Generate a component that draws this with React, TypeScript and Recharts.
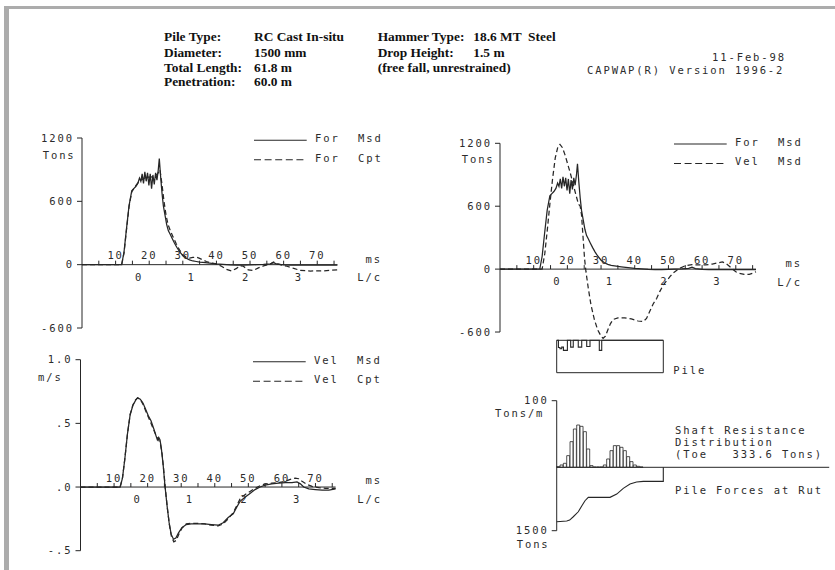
import React from 'react';
import {
  LineChart, Line, XAxis, YAxis, ReferenceLine, ReferenceDot, ReferenceArea, ComposedChart, Bar,
} from 'recharts';

type Pt = [number, number];

const INK = '#262626';
const TXT = '#2c2c2c';
const MONO = '"DejaVu Sans Mono", "Liberation Mono", monospace';
const SERIF = '"Liberation Serif", "Times New Roman", serif';
const FS = 10.5;
const LS = 1.9;

// time axis (ms) shared by the three signal plots
const msTicks = [5, 10, 15, 20, 25, 30, 35, 40, 45, 50, 55, 60, 65, 70, 75];
const msLabels = [10, 20, 30, 40, 50, 60, 70];
const lcLabels = ['0', '1', '2', '3'];
const lcLabelMs = [17.0, 32.6, 48.8, 64.5];

const forceTicks = [-600, 0, 600, 1200];
const velTicks = [-0.5, 0, 0.5, 1.0];
const velTickText: Record<string, string> = { '-0.5': '-.5', '0': '.0', '0.5': '.5', '1': '1.0' };

const pileInfo = [
  ['Pile Type:', 'RC Cast In-situ'],
  ['Diameter:', '1500 mm'],
  ['Total Length:', '61.8 m'],
  ['Penetration:', '60.0 m'],
];
const hammerInfo = [
  ['Hammer Type:', '18.6 MT  Steel'],
  ['Drop Height:', '1.5 m'],
  ['(free fall, unrestrained)', ''],
];

// measured force, tons
const forceMsd: Pt[] = [
  [0, 0], [11.8, 0], [12.5, 120], [13.2, 330], [14, 560], [14.8, 700], [15.4, 720], [16, 740],
  [16.6, 770], [17.1, 820], [17.5, 790], [17.9, 860], [18.3, 770], [18.7, 880], [19.1, 790],
  [19.5, 870], [19.9, 750], [20.3, 860], [20.7, 720], [21.1, 850], [21.5, 760], [21.9, 870],
  [22.3, 800], [22.7, 900], [23.0, 1005], [23.4, 830], [23.8, 680], [24.2, 560], [24.7, 470],
  [25.2, 380], [25.7, 320], [26.2, 290], [26.8, 250], [27.5, 205], [28.2, 165], [29, 125],
  [30, 85], [31, 60], [32, 45], [33, 35], [34, 30], [35, 25], [36, 22], [38, 15], [40, 8],
  [42, 3], [44, -3], [46, -5], [48, -4], [50, -2], [52, 0], [54, 2], [56, 8], [57, 18],
  [58, 5], [60, -3], [62, -5], [66, -5], [70, -5], [76, -5],
];

// computed force, tons
const forceCpt: Pt[] = [
  [0, 0], [11.8, 0], [12.5, 110], [13.2, 320], [14, 550], [14.8, 690], [15.6, 730], [16.5, 770],
  [17.5, 800], [18.5, 820], [19.5, 830], [20.5, 830], [21.5, 835], [22.5, 860], [23.2, 900],
  [23.8, 760], [24.4, 600], [25, 470], [25.6, 380], [26.3, 320], [27, 270], [28, 200], [29, 140],
  [30, 95], [31, 70], [32, 62], [33, 68], [34, 72], [35, 60], [36, 45], [37, 30], [38, 20],
  [40, 8], [41.5, -15], [43, -45], [44.5, -60], [46, -35], [47, -10], [48, -15], [49.5, -50],
  [51, -55], [52.5, -30], [54, -12], [56, 5], [57, 25], [58, 10], [59.5, -5], [61, -15],
  [63, -35], [65, -55], [68, -60], [72, -58], [76, -48],
];

// measured velocity times impedance, tons
const velMsdTons: Pt[] = [
  [0, 0], [12.5, 0], [13.3, 150], [14, 360], [14.8, 620], [15.6, 860], [16.4, 1060], [17.2, 1170],
  [17.8, 1190], [18.5, 1160], [19.3, 1090], [20.2, 990], [21, 900], [21.8, 800], [22.6, 700],
  [23.3, 620], [23.8, 600], [24.2, 520], [24.6, 330], [25.1, 100], [25.5, -20], [26.2, -180],
  [27, -340], [28, -480], [29, -580], [30, -640], [30.6, -660], [31.3, -640], [32, -580],
  [32.8, -520], [33.6, -480], [35, -465], [37, -465], [39, -475], [41, -495], [42.5, -500],
  [43.5, -470], [44.5, -400], [45.5, -330], [46.5, -280], [47.5, -210], [48.5, -150],
  [49.5, -110], [50.5, -70], [51.5, -35], [52.5, -10], [53.5, 10], [54.5, 25], [55.5, 35],
  [57, 42], [59, 40], [61, 40], [63, 48], [64.5, 58], [66, 68], [67, 55], [68, 30], [69, 0],
  [70, -25], [71, -40], [72.5, -50], [74, -50], [75, -40], [76, -25],
];

// measured velocity, m/s
const velMsd: Pt[] = [
  [0, 0], [11.8, 0], [12.5, 0.07], [13.2, 0.22], [14, 0.42], [14.8, 0.57], [15.6, 0.64],
  [16.4, 0.68], [17, 0.70], [17.8, 0.69], [18.6, 0.66], [19.4, 0.61], [20.2, 0.56], [21, 0.52],
  [21.8, 0.46], [22.4, 0.41], [22.9, 0.37], [23.3, 0.39], [23.7, 0.37], [24.1, 0.30],
  [24.6, 0.18], [25.2, 0.0], [25.8, -0.15], [26.4, -0.28], [27, -0.37], [27.7, -0.41],
  [28.4, -0.40], [29.2, -0.36], [30.2, -0.32], [31.5, -0.295], [33, -0.29], [35, -0.29],
  [37, -0.29], [39, -0.295], [41, -0.30], [42.5, -0.28], [44, -0.24], [45.5, -0.21],
  [46.5, -0.16], [47.6, -0.11], [49, -0.08], [50.5, -0.05], [52, -0.02], [53.5, 0.0],
  [55, 0.015], [57, 0.025], [59, 0.03], [61, 0.035], [63, 0.035], [64.5, 0.04], [65.5, 0.025],
  [66.5, 0.0], [68, -0.015], [70, -0.02], [72, -0.025], [74, -0.025], [76, -0.015],
];

// computed velocity, m/s
const velCpt: Pt[] = [
  [0, 0], [11.8, 0], [12.5, 0.07], [13.2, 0.22], [14, 0.42], [14.8, 0.57], [15.6, 0.645],
  [16.4, 0.685], [17, 0.70], [17.8, 0.69], [18.6, 0.65], [19.4, 0.60], [20.2, 0.55], [21, 0.50],
  [21.8, 0.45], [22.6, 0.40], [23.3, 0.37], [23.8, 0.34], [24.3, 0.26], [24.8, 0.13],
  [25.3, -0.02], [25.9, -0.17], [26.5, -0.30], [27.1, -0.39], [27.8, -0.43], [28.5, -0.42],
  [29.3, -0.37], [30.3, -0.32], [31.5, -0.29], [33, -0.285], [35, -0.285], [37, -0.29],
  [39, -0.3], [41, -0.305], [42.5, -0.29], [44, -0.25], [45.5, -0.2], [46.5, -0.15],
  [47.6, -0.09], [49, -0.06], [50.5, -0.035], [52, -0.01], [53.5, 0.01], [55, 0.025],
  [57, 0.03], [59, 0.035], [61, 0.045], [62.5, 0.06], [64, 0.07], [65, 0.065], [66, 0.045],
  [67.5, 0.02], [69, 0.005], [71, -0.005], [73, -0.01], [76, -0.01],
];

// pile model: depth m, relative impedance
const PILE_LENGTH = 61.8;
const pileProfile: Pt[] = [
  [0, 1], [1.0, 0.78], [1.9, 0.74], [2.9, 0.79], [3.9, 0.69], [6.2, 1], [8.1, 0.79], [9.6, 1],
  [12.5, 0.79], [14.5, 1], [17.4, 0.81], [19.3, 1], [24.7, 0.69], [26.1, 1], [61.8, 1],
];

// shaft resistance per segment, tons/m (32 segments down the pile)
const shaftRes = [
  1, 3.5, 6, 17.5, 38.5, 57.5, 63.5, 61.5, 53.5, 27.5, 2.5, 0.5, 0.5, 0.5, 3.5, 12.5,
  25, 32.5, 32.5, 30, 25, 16, 8.5, 3.5, 1.5, 0.5, 0, 0, 0, 0, 0, 0,
];

// pile forces at Rut: depth m, tons
const pileForce: Pt[] = [
  [0, 1289], [5.8, 1272], [7.5, 1250], [9.6, 1170], [12.5, 1052], [14.5, 917], [16.4, 791],
  [18.3, 711], [30.9, 711], [34.8, 633], [38.6, 498], [42.5, 396], [46.3, 348], [50.2, 332],
  [61.8, 333.6], [61.8, 0],
];

// bottom-right axis: pixels above / below the zero line
const BR_UP_PX = 66.6;
const BR_DOWN_PX = 63.4;
const SHAFT_DOWN = (100 * BR_DOWN_PX) / BR_UP_PX;
const FORCE_UP = (1500 * BR_UP_PX) / BR_DOWN_PX;
const BASELINE_END = 158;

const rows = (pts: Pt[]) => pts.map(([x, y]) => ({ x, y }));
const shaftRows = shaftRes.map((r, i) => ({ seg: i + 1, r }));

const solid = {
  type: 'linear' as const, stroke: INK, strokeWidth: 1.25, dot: false, activeDot: false,
  isAnimationActive: false,
};
const dashed = { ...solid, strokeDasharray: '5 3' };

// axes have (almost) no width of their own: the chart margin leaves room for the labels
const yAxisStyle = {
  type: 'number' as const,
  width: 0.01,
  tickSize: 5,
  tickMargin: 3,
  interval: 0 as const,
  axisLine: { stroke: INK },
  tickLine: { stroke: INK },
  tick: { fill: TXT, fontSize: FS, fontFamily: MONO, letterSpacing: LS },
};

const TickText = (props: any) => {
  const vb = props.viewBox || { x: props.x, y: props.y };
  return (
    <text x={vb.x} y={vb.y + props.dy} textAnchor="middle" fill={TXT} fontFamily={MONO}
      fontSize={FS} letterSpacing={LS}>
      {props.text}
    </text>
  );
};

// horizontal time axis drawn through y = 0
const timeAxis = (id: string, yMin: number, yMax: number, plotH: number) => {
  const up = ((yMax - yMin) / plotH) * 4;
  return [
    <ReferenceLine key={id + 'ax'} y={0} stroke={INK} strokeWidth={1} />,
    ...msTicks.map((t) => (
      <ReferenceLine key={id + 't' + t} segment={[{ x: t, y: 0 }, { x: t, y: up }]} stroke={INK} strokeWidth={1} />
    )),
    ...msLabels.map((t) => (
      <ReferenceDot key={id + 'm' + t} x={t} y={0} r={0} fill="none" stroke="none"
        label={<TickText text={String(t)} dy={-5.5} />} />
    )),
    ...lcLabels.map((s, i) => (
      <ReferenceDot key={id + 'c' + i} x={lcLabelMs[i]} y={0} r={0} fill="none" stroke="none"
        label={<TickText text={s} dy={16} />} />
    )),
  ];
};

const T = ({ x, y, a = 'start', children }: any) => (
  <text x={x} y={y + 3.8} textAnchor={a} fill={TXT} fontFamily={MONO} fontSize={FS}
    letterSpacing={LS} style={{ whiteSpace: 'pre' }}>
    {children}
  </text>
);

const H = ({ x, y, children }: any) => (
  <text x={x} y={y + 4.6} fontFamily={SERIF} fontWeight="bold" fontSize={13.4} fill="#111"
    style={{ whiteSpace: 'pre' }}>
    {children}
  </text>
);

const LEG_DASH = '7 3.6 7 3.6 7 3.6 7 3.6 7 4 1.5 30';

const Legend = ({ x, y, names }: { x: number; y: number; names: string[][] }) => (
  <g>
    <line x1={x} x2={x + 52.7} y1={y + 2} y2={y + 2} stroke={INK} strokeWidth={1.1} />
    <line x1={x} x2={x + 52.7} y1={y + 21.5} y2={y + 21.5} stroke={INK} strokeWidth={1.1} strokeDasharray={LEG_DASH} />
    <T x={x + 61} y={y}>{names[0][0]}</T>
    <T x={x + 104} y={y}>{names[0][1]}</T>
    <T x={x + 61} y={y + 19.5}>{names[1][0]}</T>
    <T x={x + 104} y={y + 19.5}>{names[1][1]}</T>
  </g>
);

const rowY = [36.7, 52.3, 67.3, 81.7];

export default function App() {
  return (
    <div style={{ position: 'absolute', left: 0, top: 0, width: 835, height: 570, background: '#fff', overflow: 'hidden' }}>
      <svg width={835} height={570} style={{ position: 'absolute', left: 0, top: 0 }}>
        <rect x={4} y={6} width={831} height={3} fill="#acacac" />
        <rect x={4} y={6} width={5} height={564} fill="#acacac" />

        {pileInfo.map(([k, v], i) => (
          <g key={'p' + i}>
            <H x={164} y={rowY[i]}>{k}</H>
            <H x={254} y={rowY[i]}>{v}</H>
          </g>
        ))}
        {hammerInfo.map(([k, v], i) => (
          <g key={'h' + i}>
            <H x={377.7} y={rowY[i]}>{k}</H>
            <H x={473.3} y={rowY[i]}>{v}</H>
          </g>
        ))}
        <T x={786} y={56.7} a="end">11-Feb-98</T>
        <T x={587} y={70}>CAPWAP(R) Version 1996-2</T>

        <Legend x={254} y={138.3} names={[['For', 'Msd'], ['For', 'Cpt']]} />
        <Legend x={674} y={142} names={[['For', 'Msd'], ['Vel', 'Msd']]} />
        <Legend x={253} y={359.8} names={[['Vel', 'Msd'], ['Vel', 'Cpt']]} />

        <T x={42.7} y={155}>Tons</T>
        <T x={382} y={259.3} a="end">ms</T>
        <T x={382} y={276.7} a="end">L/c</T>

        <T x={461.7} y={159.3}>Tons</T>
        <T x={802} y={263.3} a="end">ms</T>
        <T x={802} y={281.7} a="end">L/c</T>
        <T x={673.3} y={370}>Pile</T>

        <T x={38} y={376.7}>m/s</T>
        <T x={382} y={480} a="end">ms</T>
        <T x={382} y={499.3} a="end">L/c</T>

        <T x={495} y={412.7}>Tons/m</T>
        <T x={516.7} y={544}>Tons</T>
        <T x={675} y={430}>Shaft Resistance</T>
        <T x={675} y={441.7}>Distribution</T>
        <T x={675} y={454}>(Toe   333.6 Tons)</T>
        <T x={675} y={490}>Pile Forces at Rut</T>
      </svg>

      {/* top left: force measured vs computed */}
      <div style={{ position: 'absolute', left: 0, top: 110 }}>
        <LineChart width={420} height={240} margin={{ top: 28, right: 82.6, bottom: 22, left: 82 }}>
          <XAxis type="number" dataKey="x" domain={[0, 76]} hide />
          <YAxis {...yAxisStyle} domain={[-600, 1200]} ticks={forceTicks} />
          {timeAxis('tl', -600, 1200, 190)}
          <Line data={rows(forceMsd)} dataKey="y" {...solid} />
          <Line data={rows(forceCpt)} dataKey="y" {...dashed} />
        </LineChart>
      </div>

      {/* top right: force and velocity measured */}
      <div style={{ position: 'absolute', left: 418, top: 115 }}>
        <LineChart width={417} height={240} margin={{ top: 28.3, right: 79, bottom: 12.5, left: 82 }}>
          <XAxis type="number" dataKey="x" domain={[0, 76]} hide />
          <YAxis {...yAxisStyle} axisLine={false} domain={[-700, 1200]} ticks={forceTicks} />
          <ReferenceLine segment={[{ x: 0, y: -600 }, { x: 0, y: 1200 }]} stroke={INK} strokeWidth={1} />
          {timeAxis('tr', -700, 1200, 199.2)}
          <Line data={rows(forceMsd)} dataKey="y" {...solid} />
          <Line data={rows(velMsdTons)} dataKey="y" {...dashed} />
        </LineChart>
      </div>

      {/* pile model */}
      <div style={{ position: 'absolute', left: 540, top: 330 }}>
        <LineChart width={180} height={50} margin={{ top: 10.3, right: 56.7, bottom: 7.3, left: 16.7 }}>
          <XAxis type="number" dataKey="x" domain={[0, PILE_LENGTH]} hide />
          <YAxis type="number" domain={[0, 1]} hide />
          <ReferenceArea x1={0} x2={PILE_LENGTH} y1={0} y2={1} fill="none" fillOpacity={0} stroke={INK} strokeWidth={1} />
          <Line data={rows(pileProfile)} dataKey="y" {...solid} type="stepAfter" strokeWidth={1.1} />
        </LineChart>
      </div>

      {/* bottom left: velocity measured vs computed */}
      <div style={{ position: 'absolute', left: 0, top: 340 }}>
        <LineChart width={420} height={230} margin={{ top: 19.7, right: 84.4, bottom: 19.3, left: 80.5 }}>
          <XAxis type="number" dataKey="x" domain={[0, 76]} hide />
          <YAxis {...yAxisStyle} domain={[-0.5, 1.0]} ticks={velTicks}
            tickFormatter={(v: number) => velTickText[String(v)]} />
          {timeAxis('bl', -0.5, 1.0, 191)}
          <Line data={rows(velMsd)} dataKey="y" {...solid} />
          <Line data={rows(velCpt)} dataKey="y" {...dashed} />
        </LineChart>
      </div>

      {/* bottom right: shaft resistance distribution and pile forces */}
      <div style={{ position: 'absolute', left: 470, top: 380 }}>
        <ComposedChart width={365} height={180} data={shaftRows} barCategoryGap={0} barGap={0}
          margin={{ top: 20.7, right: 171.7, bottom: 29.3, left: 86.7 }}>
          <XAxis xAxisId="seg" type="category" dataKey="seg" hide />
          <XAxis xAxisId="depth" type="number" dataKey="x" domain={[0, PILE_LENGTH]} hide />
          <YAxis yAxisId="shaft" {...yAxisStyle} domain={[-SHAFT_DOWN, 100]} ticks={[100]} />
          <YAxis yAxisId="force" {...yAxisStyle} axisLine={false} reversed domain={[-FORCE_UP, 1500]} ticks={[1500]} />
          <ReferenceLine xAxisId="depth" yAxisId="shaft" segment={[{ x: 0, y: 0 }, { x: BASELINE_END, y: 0 }]}
            ifOverflow="visible" stroke={INK} strokeWidth={1} />
          <Bar xAxisId="seg" yAxisId="shaft" dataKey="r" fill="#fff" stroke={INK} strokeWidth={0.8} isAnimationActive={false} />
          <Line xAxisId="depth" yAxisId="force" data={rows(pileForce)} dataKey="y" {...solid} strokeWidth={1.1} />
        </ComposedChart>
      </div>
    </div>
  );
}
